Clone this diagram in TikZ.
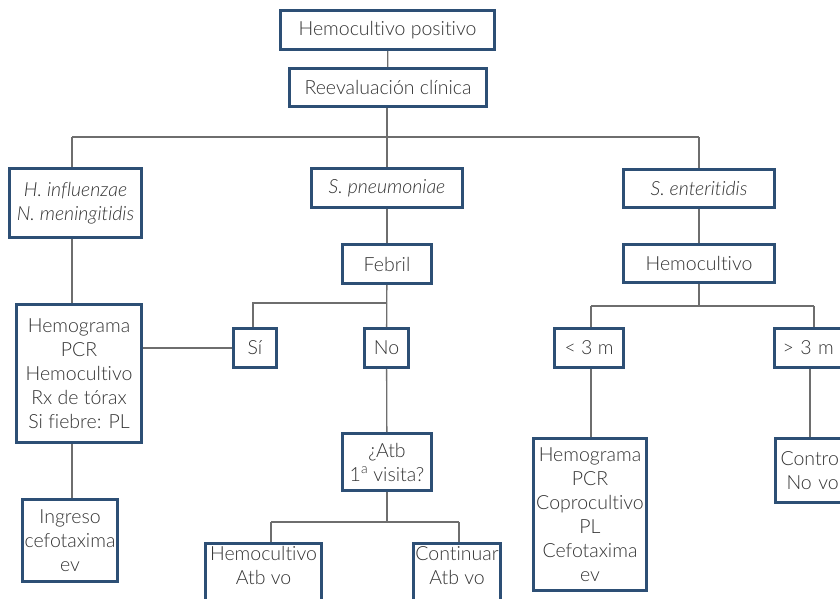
\documentclass[tikz,border=0pt]{standalone}
\usepackage{fontspec}
\setmainfont{Lato Light}[ItalicFont={Lato Light Italic}, Ligatures=NoCommon]
\definecolor{boxblue}{HTML}{2D4F75}
\definecolor{linegray}{HTML}{6E6E6E}
\definecolor{txtgray}{HTML}{333333}
\begin{document}
\begin{tikzpicture}[x=1pt,y=-1pt,
  box/.style={draw=boxblue, line width=3pt, fill=white, text=txtgray, inner sep=0pt,
    align=center, font=\fontsize{19.5}{24}\selectfont},
  conn/.style={draw=linegray, line width=1.3pt}]
\useasboundingbox (0,0) rectangle (840,599);
\clip (0,0) rectangle (840,599);

% boxes
\node[box, minimum width=214, minimum height=39] (top) at (387.5,30) {Hemocultivo positivo};
\node[box, minimum width=197, minimum height=38] (reev) at (388,87.5) {Reevaluación clínica};
\node[box, minimum width=132, minimum height=69] (hinf) at (75.5,203) {\itshape H. influenzae\\\itshape N. meningitidis};
\node[box, minimum width=151, minimum height=39] (spn) at (387,188) {\itshape S. pneumoniae};
\node[box, minimum width=151, minimum height=38] (sent) at (699,188.5) {\itshape S. enteritidis};
\node[box, minimum width=89, minimum height=39] (febril) at (387,264) {Febril};
\node[box, minimum width=151, minimum height=38] (hemo2) at (699,263.5) {Hemocultivo};
\node[box, minimum width=125, minimum height=138] (hemL) at (79,373.5) {Hemograma\\PCR\\Hemocultivo\\Rx de tórax\\Si fiebre: PL};
\node[box, minimum width=43, minimum height=39] (si) at (255,348) {Sí};
\node[box, minimum width=44, minimum height=39] (no) at (386.5,348) {No};
\node[box, minimum width=89, minimum height=57] (atb) at (387,462) {¿Atb\\1\textsuperscript{a} visita?};
\node[box, minimum width=116, minimum height=75] (hemoatb) at (263.5,581) {Hemocultivo\\Atb vo\\\strut};
\node[box, minimum width=87, minimum height=75] (cont) at (457,581) {Continuar\\Atb vo\\\strut};
\node[box, minimum width=95, minimum height=82] (ingreso) at (70,540.5) {Ingreso\\cefotaxima\\ev};
\node[box, minimum width=69, minimum height=39] (lt3) at (589,348) {< 3 m};
\node[box, anchor=north west, minimum height=39, text width=104, inner xsep=8pt, align=left] (gt3) at (773,327) {> 3 m};
\node[box, minimum width=113, minimum height=152] (hemR) at (590,514.5) {Hemograma\\PCR\\Coprocultivo\\PL\\Cefotaxima\\ev};
\node[box, anchor=north west, minimum height=64, text width=104, inner xsep=5pt, align=left] (control) at (774,437) {Contro\\\hspace*{6pt}No vo};

% junctions
\coordinate (j1) at (387,137);
\coordinate (j1L) at (72,137);
\coordinate (j1R) at (699,137);
\coordinate (j2) at (387,303);
\coordinate (j2L) at (253,303);
\coordinate (j3) at (387,522);
\coordinate (j3L) at (271,522);
\coordinate (j3R) at (459,522);
\coordinate (j4) at (699,306);
\coordinate (j4L) at (591,306);
\coordinate (j4R) at (814,306);
\coordinate (c5) at (810,369);

% connectors
\draw[conn] (top) -- (reev);
\draw[conn] (j1 |- reev.south) -- (j1);
\draw[conn] (j1L) -- (j1R);
\draw[conn] (j1L) -- (j1L |- hinf.north);
\draw[conn] (j1) -- (spn);
\draw[conn] (j1R) -- (j1R |- sent.north);
\draw[conn] (j1L |- hinf.south) -- (j1L |- hemL.north);
\draw[conn] (spn) -- (febril);
\draw[conn] (sent) -- (hemo2);
\draw[conn] (febril) -- (no);
\draw[conn] (j2) -- (j2L) -- (j2L |- si.north);
\draw[conn] (hemL.east |- si.west) -- (si.west);
\draw[conn] (j1L |- hemL.south) -- (j1L |- ingreso.north);
\draw[conn] (no) -- (atb);
\draw[conn] (atb) -- (j3);
\draw[conn] (j3L) -- (j3R);
\draw[conn] (j3L) -- (j3L |- hemoatb.north);
\draw[conn] (j3R) -- (j3R |- cont.north);
\draw[conn] (hemo2) -- (j4);
\draw[conn] (j4L) -- (j4R);
\draw[conn] (j4L) -- (j4L |- lt3.north);
\draw[conn] (j4R) -- (j4R |- gt3.north);
\draw[conn] (j4L |- lt3.south) -- (j4L |- hemR.north);
\draw[conn] (c5 |- gt3.south) -- (c5 |- control.north);
\end{tikzpicture}
\end{document}
